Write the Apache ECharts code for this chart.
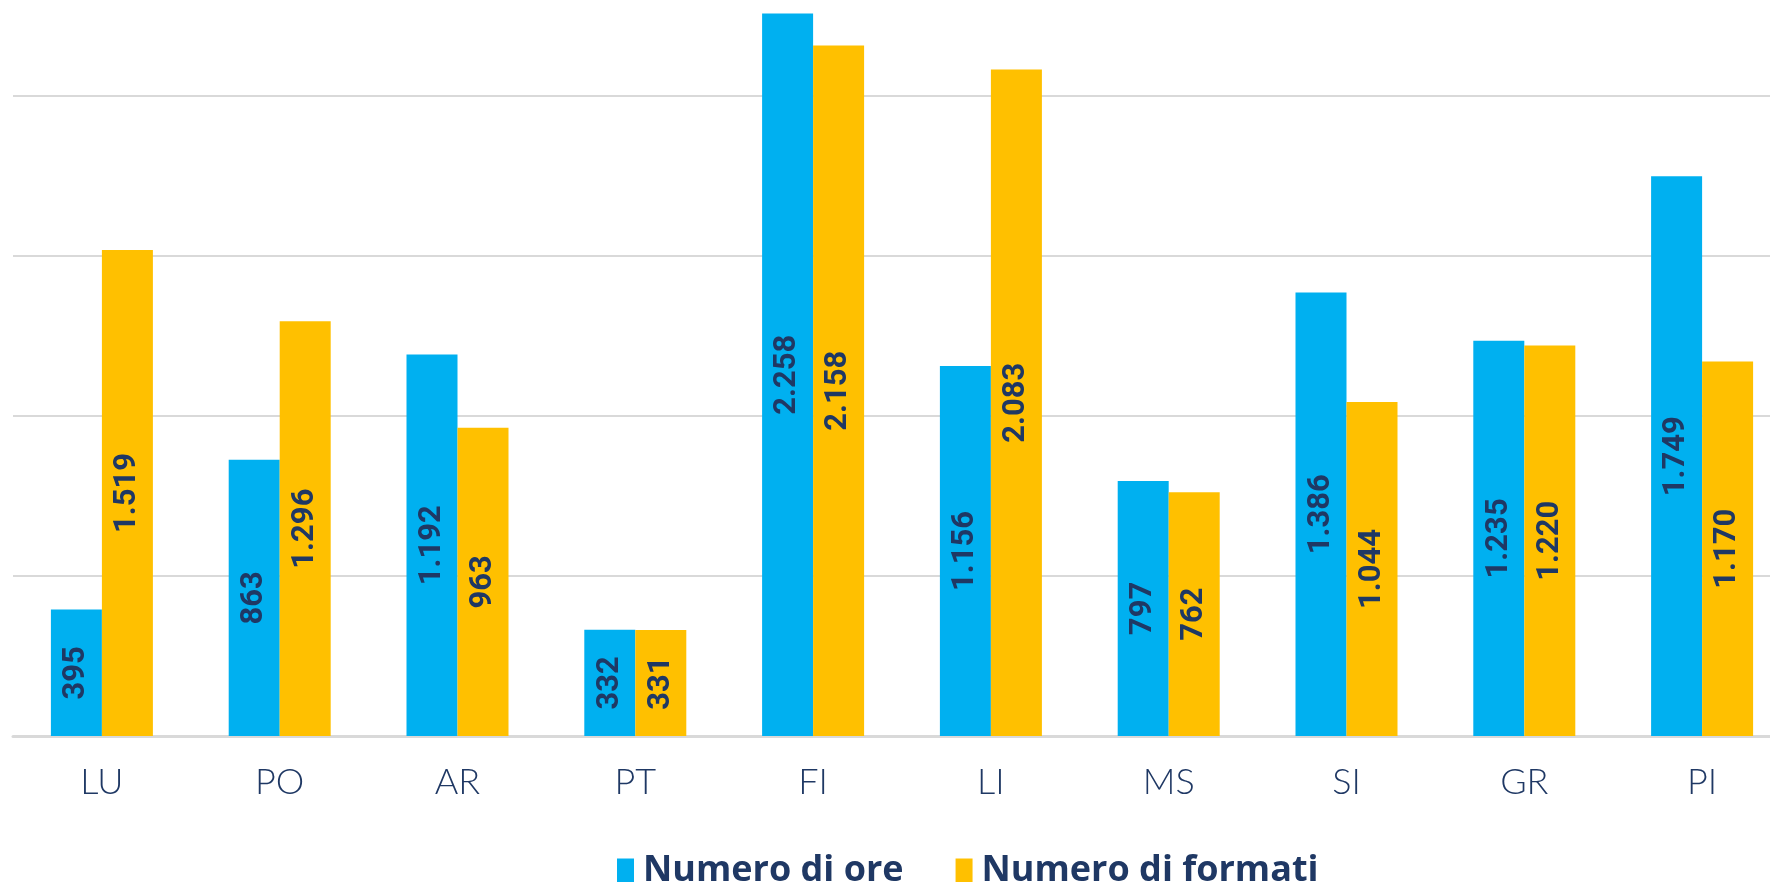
<!DOCTYPE html>
<html>
<head>
<meta charset="utf-8">
<script src="https://cdn.jsdelivr.net/npm/echarts@6/dist/echarts.min.js"></script>
<style>
html,body{margin:0;padding:0;background:#fff;overflow:hidden;}
#chart{width:1800px;height:882px;}
</style>
</head>
<body>
<div id="chart"></div>
<script>
const categories = ['LU','PO','AR','PT','FI','LI','MS','SI','GR','PI'];
const seriesNames = ['Numero di ore','Numero di formati'];
const ore = [395, 863, 1192, 332, 2258, 1156, 797, 1386, 1235, 1749];
const formati = [1519, 1296, 963, 331, 2158, 2083, 762, 1044, 1220, 1170];

const textColor = '#1F3864';
function fmt(v){
  return String(v).replace(/\B(?=(\d{3})+(?!\d))/g, '.');
}
const labelCfg = {
  show: true,
  position: 'inside',
  rotate: 90,
  color: textColor,
  fontFamily: 'Liberation Sans Narrow, Roboto, sans-serif',
  fontWeight: 'bold',
  fontSize: 31,
  formatter: p => fmt(p.value)
};

const chart = echarts.init(document.getElementById('chart'));
chart.setOption({
  animation: false,
  backgroundColor: '#ffffff',
  grid: { left: 13, right: 9, top: 0, bottom: 146, containLabel: false },
  legend: {
    left: 612, top: 848,
    itemWidth: 17, itemHeight: 25, itemGap: 52,
    icon: 'rect',
    textStyle: { color: textColor, fontSize: 36, fontWeight: 'bold', fontFamily: 'Open Sans, sans-serif', padding: [0,0,0,4] },
    data: seriesNames
  },
  xAxis: {
    type: 'category',
    data: categories,
    axisLine: { show: true, lineStyle: { color: '#d9d9d9', width: 3 } },
    axisTick: { show: false },
    axisLabel: { color: textColor, fontSize: 36, fontFamily: 'Lato, sans-serif', fontWeight: 300, margin: 28 }
  },
  yAxis: {
    type: 'value',
    min: 0, max: 2300, interval: 500,
    axisLabel: { show: false },
    axisLine: { show: false },
    axisTick: { show: false },
    splitLine: { showMaxLine: false, lineStyle: { color: '#d9d9d9', width: 2 } }
  },
  series: [
    { name: seriesNames[0], type: 'bar', data: ore, barWidth: 51, barGap: '0%',
      itemStyle: { color: '#00B0F0' }, label: labelCfg },
    { name: seriesNames[1], type: 'bar', data: formati, barWidth: 51, barGap: '0%',
      itemStyle: { color: '#FFC000' }, label: labelCfg }
  ]
});
</script>
</body>
</html>
